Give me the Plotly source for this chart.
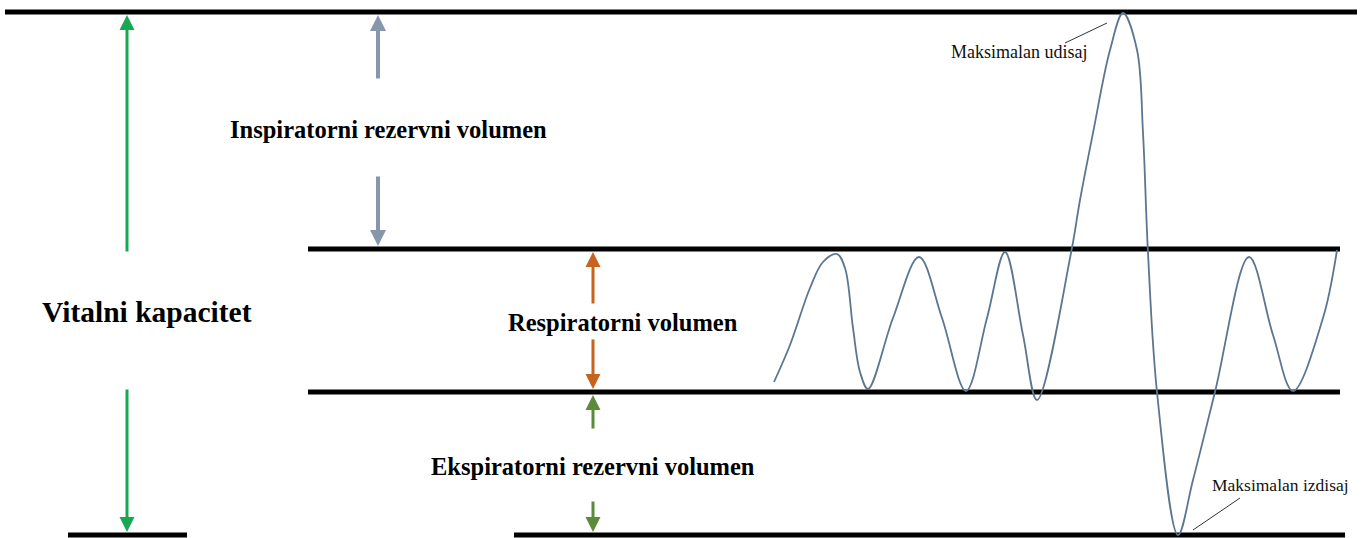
import plotly.graph_objects as go

# ---- data (x: time units, y: lung volume units) ----
level_names = ["Maksimalni udisaj", "Kraj udisaja", "Kraj izdisaja", "Maksimalni izdisaj"]
level_values = [526, 289, 146, 3]
level_x_start = [[5], [308], [308], [68, 514]]
level_x_end = [[1357], [1340], [1340], [187, 1345]]

wave_t = [774, 790, 810, 823, 837, 845, 853, 860, 868,
          893, 919, 942, 966,
          987, 1005, 1023, 1037,
          1071, 1080, 1093, 1110, 1123, 1137, 1143, 1148, 1157, 1178, 1193, 1215,
          1249, 1273, 1293, 1323, 1337]
wave_v = [156, 193, 250, 276, 284, 270, 210, 166, 149,
          220, 281, 220, 147,
          220, 286, 203, 138,
          285, 338, 405, 488, 525, 488, 405, 285, 146, 3, 58, 146,
          281, 203, 147, 220, 288]

labels = ["Inspiratorni rezervni volumen", "Vitalni kapacitet", "Respiratorni volumen",
          "Ekspiratorni rezervni volumen"]
label_x = [388, 147, 623, 593]
label_y = [409, 226, 216, 72]
label_size = [24.5, 29.5, 24.5, 24.5]

notes = ["Maksimalan udisaj", "Maksimalan izdisaj"]
note_x = [1019, 1280]
note_y = [486, 53]
note_size = [18, 17.5]
leader_x0 = [1065, 1240]
leader_y0 = [495, 40]
leader_x1 = [1107, 1193]
leader_y1 = [515, 8]

# arrows between levels
arrow_x = [127, 378, 593, 593]
arrow_top = [0, 0, 1, 2]
arrow_bot = [3, 1, 2, 3]
arrow_up_tail = [285, 458, 233, 108]
arrow_down_tail = [150, 363, 200, 38]
arrow_colors = ["#16a951", "#8797ab", "#c5631f", "#5b8a3a"]
arrow_widths = [3, 4, 3, 3]
arrow_sizes = [1.0, 0.8, 1.0, 1.0]

fig = go.Figure()

# level lines
lx, ly = [], []
for v, xs, xe in zip(level_values, level_x_start, level_x_end):
    for a, b in zip(xs, xe):
        lx += [a, b, None]
        ly += [v, v, None]
fig.add_trace(go.Scatter(x=lx, y=ly, mode="lines", line=dict(color="black", width=5),
                         hoverinfo="skip", showlegend=False))

# spirogram wave
fig.add_trace(go.Scatter(x=wave_t, y=wave_v, mode="lines",
                         line=dict(color="#5b7690", width=1.8, shape="spline", smoothing=1.0),
                         hoverinfo="skip", showlegend=False))

# leader lines
for x0, y0, x1, y1 in zip(leader_x0, leader_y0, leader_x1, leader_y1):
    fig.add_trace(go.Scatter(x=[x0, x1], y=[y0, y1], mode="lines",
                             line=dict(color="#333333", width=1), hoverinfo="skip",
                             showlegend=False))

# arrows
for i in range(len(arrow_x)):
    top = level_values[arrow_top[i]] - 3
    bot = level_values[arrow_bot[i]] + 3
    for tip, tail in ((top, arrow_up_tail[i]), (bot, arrow_down_tail[i])):
        fig.add_annotation(x=arrow_x[i], y=tip, ax=arrow_x[i], ay=tail,
                           xref="x", yref="y", axref="x", ayref="y",
                           showarrow=True, arrowhead=2, arrowsize=arrow_sizes[i],
                           arrowwidth=arrow_widths[i], arrowcolor=arrow_colors[i], text="")

# labels
for t, x, y, s in zip(labels, label_x, label_y, label_size):
    fig.add_annotation(x=x, y=y, text="<b>%s</b>" % t, showarrow=False, xref="x", yref="y",
                       font=dict(family="Liberation Serif", size=s, color="black"))
for t, x, y, s in zip(notes, note_x, note_y, note_size):
    fig.add_annotation(x=x, y=y, text=t, showarrow=False, xref="x", yref="y",
                       font=dict(family="Liberation Serif", size=s, color="#111111"))

fig.update_xaxes(range=[0, 1369], visible=False, fixedrange=True)
fig.update_yaxes(range=[0, 538], visible=False, fixedrange=True)
fig.update_layout(width=1369, height=538, margin=dict(l=0, r=0, t=0, b=0),
                  paper_bgcolor="white", plot_bgcolor="white")

fig.write_html("out.html", config={"displayModeBar": False},
               post_script="document.body.style.margin='0px';"
                           "document.body.style.overflow='hidden';")
